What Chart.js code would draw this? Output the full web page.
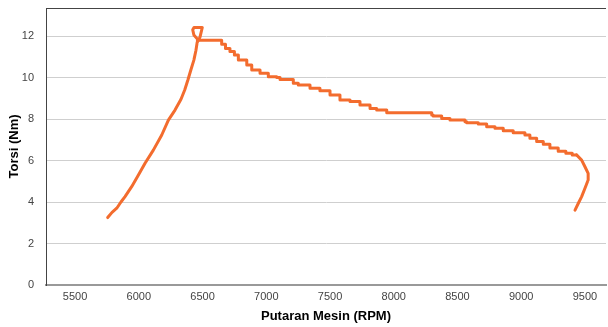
<!DOCTYPE html>
<html>
<head>
<meta charset="utf-8">
<title>Torsi vs Putaran Mesin</title>
<script src="https://cdn.jsdelivr.net/npm/chart.js"></script>
<style>
    body { margin: 0; background: #fff; }
    canvas { display: block; }
</style>
</head>
<body>
<canvas id="grafikTorsi" width="608" height="327"></canvas>
<script>
// Data hasil uji dyno: putaran mesin (RPM) dan torsi (Nm)
// Bagian naik (akselerasi) sampai puncak torsi
const rpmNaik = [
    5756, 5790, 5827, 5860, 5892, 5944, 5997, 6049, 6114, 6180,
    6232, 6284, 6331, 6360, 6385, 6410, 6432, 6448, 6458, 6460,
    6432, 6423, 6433, 6498, 6480, 6470
];
const torsiNaik = [
    3.25, 3.5, 3.7, 4.0, 4.26, 4.74, 5.3, 5.87, 6.5, 7.23,
    7.95, 8.43, 8.95, 9.4, 9.88, 10.4, 10.84, 11.3, 11.7, 11.85,
    12.05, 12.3, 12.41, 12.41, 11.95, 11.8
];
// Bagian turun bertingkat (resolusi sensor)
const rpmTurun = [
    6470, 6650, 6680, 6715, 6750, 6781, 6847, 6886, 6951, 7016, 7082,
    7108, 7160, 7212, 7251, 7343, 7421, 7500, 7578, 7657, 7735,
    7814, 7866, 7945, 8010, 8298, 8309, 8376, 8441, 8559, 8572,
    8663, 8729, 8794, 8859, 8937, 9029, 9068, 9121, 9173, 9225,
    9290, 9350, 9400, 9434
];
const torsiTurun = [
    11.8, 11.8, 11.6, 11.4, 11.25, 11.08, 10.84, 10.6, 10.36, 10.2, 10.04,
    10.0, 9.91, 9.91, 9.72, 9.64, 9.48, 9.36, 9.16, 8.92, 8.84,
    8.67, 8.51, 8.43, 8.3, 8.3, 8.19, 8.14, 8.03, 7.95, 7.87,
    7.82, 7.76, 7.63, 7.55, 7.44, 7.34, 7.23, 7.07, 6.91, 6.78,
    6.6, 6.45, 6.35, 6.27
];
// Ujung kurva saat putaran turun
const rpmUjung = [9434, 9474, 9500, 9525, 9525, 9500, 9474, 9448, 9422];
const torsiUjung = [6.27, 6.02, 5.7, 5.38, 5.06, 4.66, 4.26, 3.94, 3.61];

const tickPutaran = [5500, 6000, 6500, 7000, 7500, 8000, 8500, 9000, 9500];
const tickTorsi = [0, 2, 4, 6, 8, 10, 12];

const keTitik = (xs, ys) => xs.map((x, i) => ({ x: x, y: ys[i] }));

const warnaGaris = "#f36c2e";
const fontTick = { family: "'Liberation Sans', Arial, sans-serif", size: 11 };
const fontJudul = { family: "'Liberation Sans', Arial, sans-serif", size: 13, weight: "bold" };

function garis(label, data, stepped) {
    return {
        label: label,
        data: data,
        showLine: true,
        stepped: stepped,
        borderColor: warnaGaris,
        borderWidth: 3,
        borderCapStyle: "round",
        borderJoinStyle: "round",
        pointRadius: 0,
        tension: 0,
    };
}

// Garis tepi atas area plot
const garisAtas = {
    id: "garisAtas",
    afterDraw(chart) {
        const { ctx, chartArea } = chart;
        ctx.save();
        ctx.strokeStyle = "#444";
        ctx.lineWidth = 1;
        ctx.beginPath();
        ctx.moveTo(chartArea.left, chartArea.top + 0.5);
        ctx.lineTo(chartArea.right, chartArea.top + 0.5);
        ctx.stroke();
        ctx.restore();
    },
};

const ctx = document.getElementById("grafikTorsi");

new Chart(ctx, {
    type: "scatter",
    data: {
        datasets: [
            garis("Naik", keTitik(rpmNaik, torsiNaik), false),
            garis("Turun", keTitik(rpmTurun, torsiTurun), "after"),
            garis("Ujung", keTitik(rpmUjung, torsiUjung), false),
        ],
    },
    options: {
        responsive: false,
        animation: false,
        layout: { padding: { top: 8, right: 2, bottom: 0, left: 0 } },
        plugins: {
            legend: { display: false },
            tooltip: { enabled: false },
        },
        scales: {
            x: {
                type: "linear",
                position: "bottom",
                min: 5272,
                max: 9665,
                afterBuildTicks: (scale) => {
                    scale.ticks = tickPutaran.map((v) => ({ value: v }));
                },
                afterFit: (scale) => {
                    scale.height = 42;
                    scale.paddingLeft = 0;
                    scale.paddingRight = 0;
                },
                ticks: {
                    color: "#444",
                    font: fontTick,
                    padding: 5,
                    maxRotation: 0,
                    callback: (v) => String(v),
                },
                grid: { display: false, drawTicks: false },
                border: { display: true, color: "#999", width: 2 },
                title: {
                    display: true,
                    text: "Putaran Mesin (RPM)",
                    color: "#000",
                    font: fontJudul,
                    padding: { top: 0, bottom: 3 },
                },
            },
            y: {
                type: "linear",
                min: 0,
                max: 13.35,
                afterBuildTicks: (scale) => {
                    scale.ticks = tickTorsi.map((v) => ({ value: v }));
                },
                afterFit: (scale) => {
                    scale.width = 46;
                    scale.paddingTop = 0;
                    scale.paddingBottom = 0;
                },
                ticks: {
                    color: "#444",
                    font: fontTick,
                    padding: 12,
                },
                grid: { color: "#cfcfcf", lineWidth: 1, drawTicks: false },
                border: { display: true, color: "#444", width: 1 },
                title: {
                    display: true,
                    text: "Torsi (Nm)",
                    color: "#000",
                    font: fontJudul,
                    padding: { top: 7, bottom: 0 },
                },
            },
        },
    },
    plugins: [garisAtas],
});
</script>
</body>
</html>
